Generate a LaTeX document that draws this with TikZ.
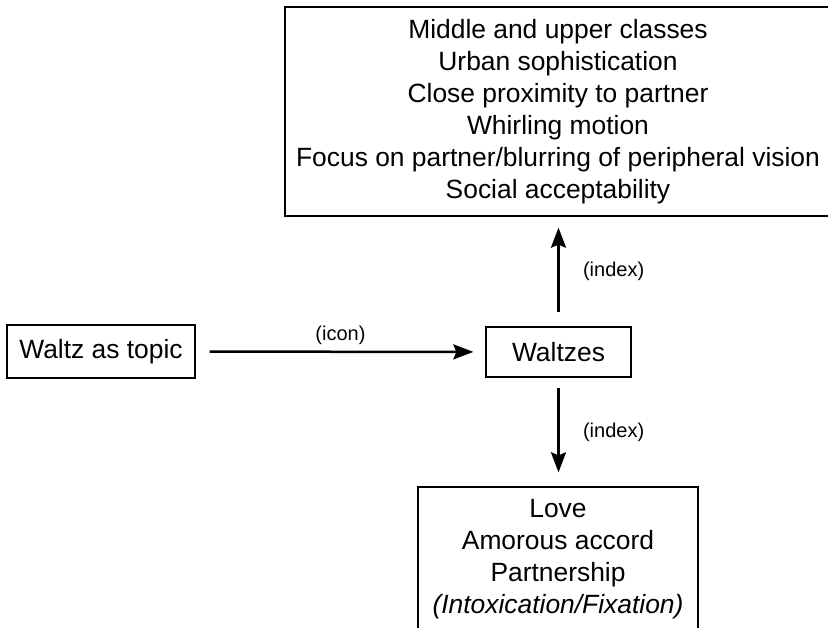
\documentclass[tikz,border=0pt]{standalone}
\usepackage{fontspec}
\setmainfont{Liberation Sans}
\usetikzlibrary{arrows.meta}

\begin{document}
\begin{tikzpicture}[x=1pt, y=-1pt,
        box/.style={draw, line width=1.3pt, align=center, inner sep=0pt,
            font=\fontsize{26.4}{32}\selectfont},
        link/.style={line width=2.5pt, -{Stealth[length=20pt, width=15pt, inset=3pt]}},
        tag/.style={font=\fontsize{20}{24}\selectfont}]
        % Page
        \useasboundingbox (0,0) rectangle (828,628);

        % Boxes
        \node[box, minimum width=188pt, minimum height=53pt] (topic) at (101, 351.5) {Waltz as topic};
        \node[box, minimum width=145pt, minimum height=50pt] (waltzes) at (558.5, 352) {Waltzes};
        \node[box, minimum width=546pt, minimum height=209pt] (social) at (558, 111.5)
            {Middle and upper classes\\ Urban sophistication\\ Close proximity to partner\\
             Whirling motion\\ Focus on partner/blurring of peripheral vision\\ Social acceptability};
        \node[box, minimum width=280pt, minimum height=145pt] (love) at (558, 559.5)
            {Love\\ Amorous accord\\ Partnership\\ \textit{(Intoxication/Fixation)}};

        % Arrows
        \draw[link, shorten <=14pt, shorten >=12pt] (topic) -- (waltzes)
            node[tag, midway, above=3pt] {(icon)};
        \draw[link, shorten <=14pt, shorten >=11pt] (waltzes.north) -- (waltzes.north |- social.south)
            node[tag, midway, right=20pt] {(index)};
        \draw[link, shorten <=10pt, shorten >=14pt] (waltzes.south) -- (waltzes.south |- love.north)
            node[tag, midway, right=20pt] {(index)};
    \end{tikzpicture}
\end{document}
